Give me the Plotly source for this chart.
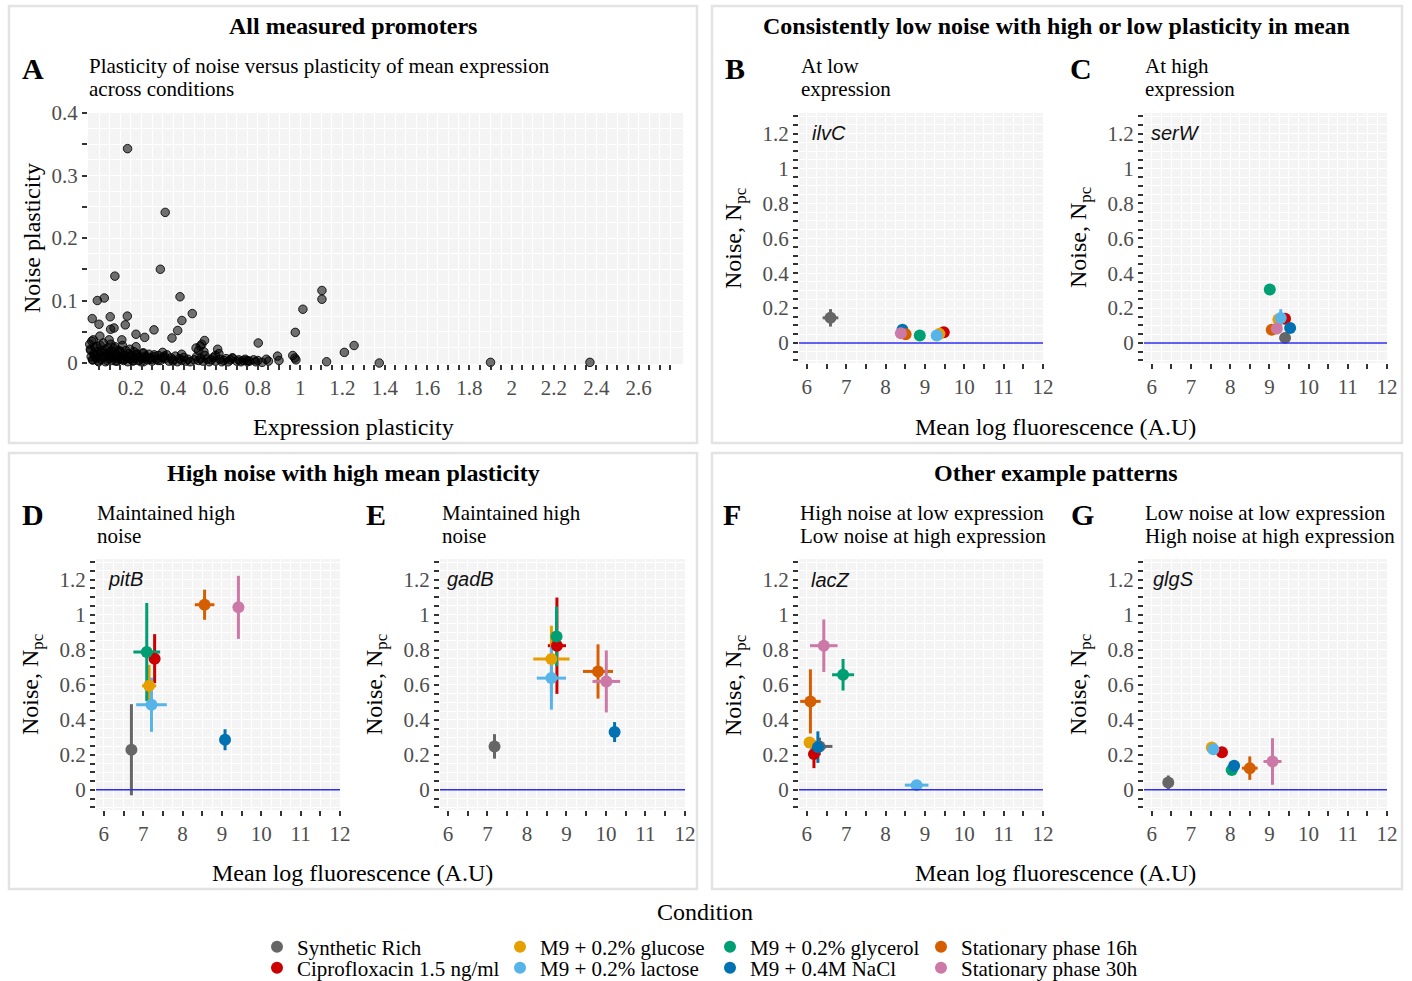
import plotly.graph_objects as go

# ---------------- data ----------------
conditions = ["Synthetic Rich", "Ciprofloxacin 1.5 ng/ml", "M9 + 0.2% glucose", "M9 + 0.2% lactose",
              "M9 + 0.2% glycerol", "M9 + 0.4M NaCl", "Stationary phase 16h", "Stationary phase 30h"]
colors = ["#666666", "#CC0000", "#E69F00", "#56B4E9", "#009E73", "#0072B2", "#D55E00", "#CC79A7"]

# Panel A: all measured promoters
expr_plasticity = [0.184, 0.362, 0.124, 0.339, 0.041, 0.074, 0.432, 0.017, 0.049, 0.102, 0.183, 0.173,
                   0.104, 0.120, 0.053, 0.224, 0.265, 0.309, 0.441, 0.490, 0.421, 0.394, 0.157, 0.097,
                   0.022, 0.224, 0.548, 0.528, 0.520, 0.610, 0.616, 0.802, 0.977, 1.013, 1.103, 1.103,
                   1.209, 1.255, 0.893, 0.965, 0.975, 0.980, 1.125, 1.374, 1.900, 2.370, 0.350, 0.310,
                   0.260, 0.440, 0.680, 0.750, 0.840,
                   0.005, 0.010, 0.012, 0.015, 0.020, 0.025, 0.030, 0.035, 0.040, 0.045, 0.050, 0.055,
                   0.060, 0.065, 0.070, 0.075, 0.080, 0.085, 0.090, 0.095, 0.100, 0.105, 0.110, 0.115,
                   0.120, 0.125, 0.130, 0.135, 0.140, 0.145, 0.150, 0.155, 0.160, 0.165, 0.170, 0.175,
                   0.180, 0.185, 0.190, 0.195, 0.200, 0.205, 0.210, 0.215, 0.220, 0.230, 0.235, 0.240,
                   0.250, 0.255, 0.260, 0.270, 0.280, 0.285, 0.290, 0.300, 0.310, 0.320, 0.330, 0.340,
                   0.350, 0.360, 0.370, 0.380, 0.390, 0.400, 0.410, 0.420, 0.430, 0.440, 0.450, 0.460,
                   0.470, 0.480, 0.500, 0.510, 0.520, 0.530, 0.540, 0.550, 0.560, 0.570, 0.580, 0.590,
                   0.600, 0.620, 0.630, 0.640, 0.650, 0.660, 0.670, 0.680, 0.700, 0.710, 0.720, 0.730,
                   0.740, 0.750, 0.760, 0.780, 0.790, 0.800, 0.820,
                   0.008, 0.018, 0.028, 0.038, 0.048, 0.058, 0.068, 0.078, 0.088, 0.098, 0.108, 0.118,
                   0.128, 0.138, 0.148, 0.168, 0.188, 0.208, 0.228, 0.248, 0.268, 0.298, 0.328, 0.358,
                   0.398, 0.508, 0.535, 0.545, 0.600, 0.900, 0.850]
noise_plasticity = [0.343, 0.241, 0.139, 0.150, 0.100, 0.104, 0.106, 0.071, 0.062, 0.074, 0.075, 0.061,
                    0.054, 0.056, 0.043, 0.046, 0.041, 0.053, 0.068, 0.079, 0.052, 0.040, 0.037, 0.037,
                    0.037, 0.026, 0.036, 0.027, 0.020, 0.022, 0.015, 0.032, 0.049, 0.086, 0.116, 0.102,
                    0.017, 0.028, 0.011, 0.012, 0.008, 0.005, 0.002, 0.000, 0.001, 0.001, 0.017, 0.013,
                    0.016, 0.014, 0.008, 0.004, 0.006,
                    0.030, 0.020, 0.010, 0.035, 0.005, 0.015, 0.025, 0.008, 0.018, 0.003, 0.012, 0.028,
                    0.006, 0.020, 0.032, 0.010, 0.002, 0.015, 0.024, 0.007, 0.013, 0.030, 0.004, 0.018,
                    0.009, 0.026, 0.014, 0.003, 0.020, 0.010, 0.006, 0.016, 0.028, 0.004, 0.012, 0.020,
                    0.008, 0.002, 0.015, 0.022, 0.006, 0.012, 0.003, 0.018, 0.009, 0.014, 0.004, 0.010,
                    0.007, 0.016, 0.002, 0.011, 0.005, 0.014, 0.008, 0.003, 0.010, 0.006, 0.012, 0.004,
                    0.009, 0.007, 0.013, 0.003, 0.008, 0.005, 0.011, 0.002, 0.007, 0.004, 0.009, 0.003,
                    0.006, 0.002, 0.005, 0.010, 0.004, 0.007, 0.003, 0.012, 0.006, 0.002, 0.005, 0.009,
                    0.003, 0.006, 0.002, 0.004, 0.007, 0.002, 0.005, 0.008, 0.003, 0.005, 0.002, 0.004,
                    0.006, 0.002, 0.003, 0.005, 0.002, 0.004, 0.001,
                    0.022, 0.005, 0.012, 0.027, 0.002, 0.016, 0.009, 0.021, 0.004, 0.017, 0.011, 0.024,
                    0.003, 0.008, 0.019, 0.006, 0.010, 0.004, 0.013, 0.002, 0.008, 0.006, 0.004, 0.011,
                    0.003, 0.024, 0.030, 0.018, 0.012, 0.004, 0.003]

# Panels B-G: mean log fluorescence, noise, and their error half-widths (order = conditions)
genes = ["ilvC", "serW", "pitB", "gadB", "lacZ", "glgS"]
gene_mean = {
    "ilvC": [6.60, 9.48, 9.37, 9.30, 8.87, 8.43, 8.51, 8.39],
    "serW": [9.40, 9.40, 9.23, 9.29, 9.01, 9.53, 9.06, 9.19],
    "pitB": [6.70, 7.29, 7.15, 7.21, 7.09, 9.08, 8.56, 9.42],
    "gadB": [7.18, 8.76, 8.62, 8.62, 8.75, 10.22, 9.80, 10.01],
    "lacZ": [6.32, 6.18, 6.07, 8.79, 6.92, 6.28, 6.09, 6.43],
    "glgS": [6.42, 7.79, 7.53, 7.57, 8.04, 8.10, 8.50, 9.08],
}
gene_noise = {
    "ilvC": [0.144, 0.061, 0.052, 0.042, 0.042, 0.075, 0.050, 0.056],
    "serW": [0.029, 0.139, 0.134, 0.143, 0.306, 0.086, 0.076, 0.082],
    "pitB": [0.229, 0.749, 0.594, 0.486, 0.787, 0.286, 1.057, 1.042],
    "gadB": [0.248, 0.823, 0.747, 0.638, 0.876, 0.330, 0.676, 0.619],
    "lacZ": [0.248, 0.204, 0.270, 0.027, 0.657, 0.244, 0.505, 0.823],
    "glgS": [0.042, 0.215, 0.242, 0.232, 0.114, 0.137, 0.124, 0.162],
}
gene_mean_err = {
    "ilvC": [0.20, 0.12, 0.08, 0.06, 0.05, 0.06, 0.05, 0.05],
    "serW": [0.05, 0.05, 0.05, 0.05, 0.04, 0.05, 0.12, 0.08],
    "pitB": [0.03, 0.05, 0.18, 0.39, 0.34, 0.07, 0.25, 0.08],
    "gadB": [0.10, 0.23, 0.46, 0.37, 0.06, 0.09, 0.38, 0.35],
    "lacZ": [0.33, 0.06, 0.08, 0.30, 0.28, 0.20, 0.26, 0.35],
    "glgS": [0.08, 0.06, 0.06, 0.05, 0.15, 0.06, 0.20, 0.23],
}
gene_noise_err = {
    "ilvC": [0.05, 0.015, 0.01, 0.01, 0.01, 0.015, 0.01, 0.01],
    "serW": [0.01, 0.02, 0.02, 0.05, 0.01, 0.015, 0.015, 0.015],
    "pitB": [0.26, 0.14, 0.12, 0.155, 0.28, 0.06, 0.086, 0.18],
    "gadB": [0.07, 0.275, 0.19, 0.18, 0.17, 0.057, 0.155, 0.177],
    "lacZ": [0.05, 0.08, 0.03, 0.01, 0.09, 0.09, 0.183, 0.15],
    "glgS": [0.04, 0.02, 0.015, 0.015, 0.02, 0.02, 0.067, 0.133],
}

# ---------------- layout helpers ----------------
FIG_W, FIG_H = 1412, 981
OFF_X, OFF_Y = 0, 0
SERIF = "Liberation Serif"


def fx(px):
    return (px - OFF_X) / FIG_W


def fy(py):
    return 1 - (py - OFF_Y) / FIG_H


# plot areas (left, right, top, bottom) in page pixels
areas = {
    "A": (88, 683, 113, 364),
    "B": (799, 1043, 113, 363),
    "C": (1144, 1387, 113, 363),
    "D": (96, 340, 559, 810),
    "E": (440, 685, 559, 810),
    "F": (799, 1043, 559, 810),
    "G": (1144, 1387, 559, 810),
}
panel_keys = ["A", "B", "C", "D", "E", "F", "G"]

fig = go.Figure()

# Panel A scatter
fig.add_trace(go.Scatter(
    x=expr_plasticity, y=noise_plasticity, mode="markers", xaxis="x", yaxis="y",
    marker=dict(size=8.5, color="rgba(0,0,0,0.55)", line=dict(color="rgba(0,0,0,0.85)", width=1)),
    cliponaxis=False, showlegend=False, hoverinfo="x+y"))

# Panels B-G
for gi, g in enumerate(genes):
    ax = str(gi + 2)
    # error bars first (below all points)
    for ci, cond in enumerate(conditions):
        fig.add_trace(go.Scatter(
            x=[gene_mean[g][ci]], y=[gene_noise[g][ci]], mode="markers",
            xaxis="x" + ax, yaxis="y" + ax,
            marker=dict(size=12, color=colors[ci], opacity=0),
            error_x=dict(type="data", array=[gene_mean_err[g][ci]], color=colors[ci], thickness=3, width=0),
            error_y=dict(type="data", array=[gene_noise_err[g][ci]], color=colors[ci], thickness=3, width=0),
            showlegend=False, hoverinfo="skip"))
    for ci, cond in enumerate(conditions):
        leg = "legend" if ci == 0 else "legend" + str(ci + 1)
        fig.add_trace(go.Scatter(
            x=[gene_mean[g][ci]], y=[gene_noise[g][ci]], mode="markers",
            xaxis="x" + ax, yaxis="y" + ax, name=cond,
            marker=dict(size=12, color=colors[ci]),
            legend=leg, showlegend=(gi == 0), legendgroup=cond))

tick_font = dict(family=SERIF, size=21, color="#4D4D4D")


def lab(v):
    return f"{v:g}"


layout_axes = {}
ax_x_vals = [round(0.05 * i, 2) for i in range(1, 56)]
ax_x_text = [lab(v) if i % 4 == 0 else "" for i, v in zip(range(1, 56), ax_x_vals)]
ay_vals = [round(0.05 * i, 2) for i in range(0, 9)]
ay_text = [lab(v) if i % 2 == 0 else "" for i, v in enumerate(ay_vals)]
common = dict(ticks="outside", ticklen=5, tickwidth=2, tickcolor="#333333", showgrid=True,
              gridcolor="white", gridwidth=1, zeroline=False, tickfont=tick_font, showline=False,
              automargin=False, tickmode="array")
l, r, t, b = areas["A"]
layout_axes["xaxis"] = dict(domain=[fx(l), fx(r)], range=[-0.003, 2.81], anchor="y",
                            tickvals=ax_x_vals, ticktext=ax_x_text, **common)
layout_axes["yaxis"] = dict(domain=[fy(b), fy(t)], range=[-0.0016, 0.4], anchor="x",
                            tickvals=ay_vals, ticktext=ay_text,
                            minor=dict(tickvals=[round(0.025 + 0.05 * i, 3) for i in range(8)],
                                       showgrid=True, gridcolor="white", gridwidth=1, ticks=""),
                            **common)

gx_vals = [6 + 0.5 * i for i in range(13)]
gx_text = [lab(v) if i % 2 == 0 else "" for i, v in enumerate(gx_vals)]
gy_vals = [round(-0.1 + 0.05 * i, 2) for i in range(29)]
gy_text = []
for v in gy_vals:
    k = round(v / 0.2, 6)
    gy_text.append(lab(round(v, 1)) if (abs(k - round(k)) < 1e-6 and 0 <= v <= 1.2 + 1e-9) else "")

for gi, key in enumerate(panel_keys[1:]):
    ax = str(gi + 2)
    l, r, t, b = areas[key]
    layout_axes["xaxis" + ax] = dict(domain=[fx(l), fx(r)], range=[5.8, 12.002], anchor="y" + ax,
                                     tickvals=gx_vals, ticktext=gx_text,
                                     minor=dict(tickvals=[6.25 + 0.5 * i for i in range(12)],
                                                showgrid=True, gridcolor="white", gridwidth=1, ticks=""),
                                     **common)
    layout_axes["yaxis" + ax] = dict(domain=[fy(b), fy(t)], range=[-0.115, 1.318], anchor="x" + ax,
                                     tickvals=gy_vals, ticktext=gy_text, **common)

# ---------------- shapes ----------------
shapes = []
for (x0, x1, y0, y1) in [(9, 697, 6, 443), (712, 1402, 6, 443), (9, 697, 453, 889), (712, 1402, 453, 889)]:
    shapes.append(dict(type="rect", xref="paper", yref="paper", x0=fx(x0), x1=fx(x1), y0=fy(y1), y1=fy(y0),
                       line=dict(color="#E3E3E3", width=2.5), fillcolor="rgba(0,0,0,0)", layer="below"))
for gi in range(6):
    ax = str(gi + 2)
    shapes.append(dict(type="line", xref="x" + ax + " domain", yref="y" + ax, x0=0, x1=1, y0=0, y1=0,
                       line=dict(color="#2E2EF0", width=1.5), layer="above"))

# ---------------- annotations ----------------
ann = []


def text(px, py, s, size=20, bold=False, anchor="center", angle=0, family=SERIF, italic=False, color="black"):
    if bold:
        s = "<b>" + s + "</b>"
    if italic:
        s = "<i>" + s + "</i>"
    ann.append(dict(x=fx(px), y=fy(py), xref="paper", yref="paper", text=s, showarrow=False,
                    xanchor=anchor, yanchor="middle", textangle=angle,
                    font=dict(family=family, size=size, color=color)))


text(353, 26, "All measured promoters", size=24, bold=True)
text(1056, 26, "Consistently low noise with high or low plasticity in mean", size=24, bold=True)
text(353, 473, "High noise with high mean plasticity", size=24, bold=True)
text(1056, 473, "Other example patterns", size=24, bold=True)

for letter, (px, py) in zip("ABCDEFG", [(33, 68), (735, 68), (1081, 68), (33, 514), (376, 514), (732, 514), (1082, 514)]):
    text(px, py, letter, size=30, bold=True)

subs = [
    (88, 66, "Plasticity of noise versus plasticity of mean expression", "across conditions"),
    (800, 66, "At low", "expression"),
    (1144, 66, "At high", "expression"),
    (96, 513, "Maintained high", "noise"),
    (441, 513, "Maintained high", "noise"),
    (799, 513, "High noise at low expression", "Low noise at high expression"),
    (1144, 513, "Low noise at low expression", "High noise at high expression"),
]
for px, py, s1, s2 in subs:
    text(px - 1, py, s1, size=21, anchor="left")
    text(px - 1, py + 23, s2, size=21, anchor="left")

text(353, 427, "Expression plasticity", size=24)
for px, py in [(1055, 427), (352, 873), (1055, 873)]:
    text(px, py, "Mean log fluorescence (A.U)", size=24)
text(32, 238, "Noise plasticity", size=24, angle=-90)
for px, py in [(735, 238), (1080, 238), (32, 685), (376, 685), (735, 685), (1080, 685)]:
    text(px, py, "Noise, N<sub>pc</sub>", size=24, angle=-90)

for g, (px, py) in zip(genes, [(810, 133), (1149, 133), (106, 579), (445, 579), (809, 580), (1151, 579)]):
    text(px, py, g, size=20, anchor="left", family="Liberation Sans", italic=True, color="#111111")

text(705, 912, "Condition", size=24)

# ---------------- legends (one per condition, arranged in 4 columns x 2 rows) ----------------
legend_pos = [(277, 947), (277, 968), (520, 947), (520, 968), (730, 947), (730, 968), (941, 947), (941, 968)]
legends = {}
for ci, (px, py) in enumerate(legend_pos):
    key = "legend" if ci == 0 else "legend" + str(ci + 1)
    legends[key] = dict(x=fx(px - 20), y=fy(py), xanchor="left", yanchor="middle",
                        bgcolor="rgba(0,0,0,0)", borderwidth=0,
                        font=dict(family=SERIF, size=21, color="black"))

fig.update_layout(
    width=FIG_W, height=FIG_H, margin=dict(l=0, r=0, t=0, b=0, pad=0, autoexpand=False),
    paper_bgcolor="white", plot_bgcolor="#F4F4F4",
    shapes=shapes, annotations=ann, **layout_axes, **legends,
    font=dict(family=SERIF),
)

fig.write_html("out.html", config={"displayModeBar": False},
               post_script="document.body.style.margin='0';document.body.style.overflow='hidden';")
